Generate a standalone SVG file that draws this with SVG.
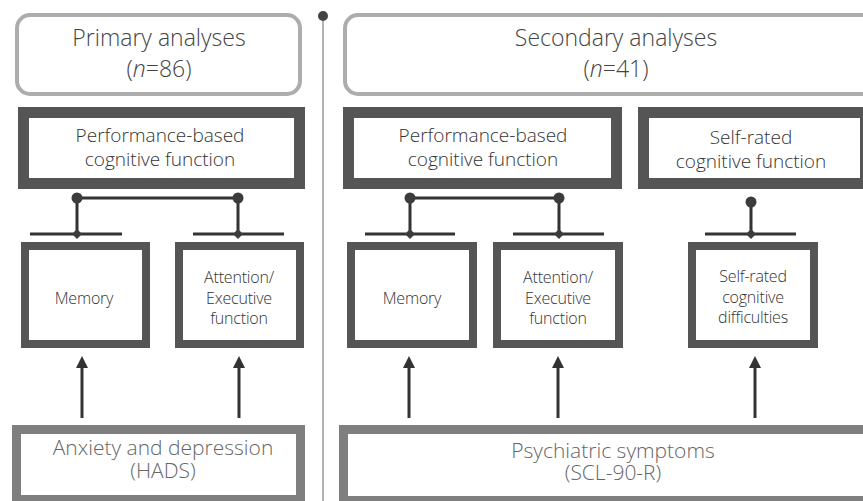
<svg xmlns="http://www.w3.org/2000/svg" width="863" height="501" viewBox="0 0 863 501">
<style>
  text { font-family: "Open Sans", "Noto Sans", "Liberation Sans", sans-serif; text-anchor: middle; font-weight: 300; }
  .title { font-size: 23px; fill: #444; }
  .cat { font-size: 19px; fill: #333; font-weight: 350; }
  .sub { font-size: 16px; fill: #333; font-weight: 350; letter-spacing: -0.2px; }
  .bot { font-size: 21px; fill: #666; }
  .tbox { fill: #fff; stroke: #adadad; stroke-width: 4; }
  .cbox { fill: #fff; stroke: #555; stroke-width: 11; }
  .mbox { fill: #fff; stroke: #555; stroke-width: 8; }
  .bbox { fill: #fff; stroke: #7f7f7f; stroke-width: 9; }
  .ln { stroke: #333; stroke-width: 3; fill: none; }
  .arr { stroke: #333; stroke-width: 3; fill: none; marker-end: url(#ah); }
  .dot { fill: #3c3c3c; }
</style>
<defs>
  <marker id="ah" viewBox="0 0 12 12" refX="1" refY="6" markerWidth="12" markerHeight="12" markerUnits="userSpaceOnUse" orient="auto">
    <path d="M0,0 L12,6 L0,12 z" fill="#333"/>
  </marker>
  <circle id="dot" r="5.5"/>
  <path id="dia" d="M0,-5 L5,0 L0,5 L-5,0 z"/>
</defs>
<rect width="863" height="501" fill="#fff"/>

<g id="divider">
  <line x1="323" y1="16" x2="323" y2="501" stroke="#9a9a9a" stroke-width="1.5"/>
  <circle cx="323" cy="16" r="5" fill="#444"/>
</g>

<g id="primary">
  <rect class="tbox" x="17" y="15" width="283" height="79" rx="13"/>
  <text class="title" x="159" y="46">Primary analyses</text>
  <text class="title" x="159" y="77">(<tspan font-style="italic">n</tspan>=86)</text>
</g>
<g id="secondary">
  <rect class="tbox" x="345" y="15" width="540" height="79" rx="13"/>
  <text class="title" x="616" y="46">Secondary analyses</text>
  <text class="title" x="616" y="77">(<tspan font-style="italic">n</tspan>=41)</text>
</g>

<g id="perf-left">
  <rect class="cbox" x="23.5" y="112.5" width="276" height="71"/>
  <text class="cat" x="160" y="142">Performance-based</text>
  <text class="cat" x="160" y="166">cognitive function</text>
</g>
<g id="perf-right">
  <rect class="cbox" x="348.5" y="112.5" width="268" height="71"/>
  <text class="cat" x="483" y="142">Performance-based</text>
  <text class="cat" x="483" y="166">cognitive function</text>
</g>
<g id="selfrated-func">
  <rect class="cbox" x="643.5" y="112.5" width="222" height="71"/>
  <text class="cat" x="751" y="144">Self-rated</text>
  <text class="cat" x="751" y="168">cognitive function</text>
</g>

<g id="memory-left">
  <rect class="mbox" x="25" y="246" width="121" height="98"/>
  <text class="sub" x="84" y="304">Memory</text>
</g>
<g id="attention-left">
  <rect class="mbox" x="179" y="246" width="121" height="98"/>
  <text class="sub" x="239" y="283">Attention/</text>
  <text class="sub" x="239" y="304">Executive</text>
  <text class="sub" x="239" y="324">function</text>
</g>
<g id="memory-right">
  <rect class="mbox" x="351" y="246" width="122" height="98"/>
  <text class="sub" x="412" y="304">Memory</text>
</g>
<g id="attention-right">
  <rect class="mbox" x="497" y="246" width="122" height="98"/>
  <text class="sub" x="558" y="283">Attention/</text>
  <text class="sub" x="558" y="304">Executive</text>
  <text class="sub" x="558" y="324">function</text>
</g>
<g id="selfrated-diff">
  <rect class="mbox" x="692" y="246" width="122" height="98"/>
  <text class="sub" x="753" y="282">Self-rated</text>
  <text class="sub" x="753" y="303">cognitive</text>
  <text class="sub" x="753" y="323">difficulties</text>
</g>

<g id="anxiety">
  <rect class="bbox" x="16.5" y="429.5" width="284" height="70"/>
  <text class="bot" x="163" y="455">Anxiety and depression</text>
  <text class="bot" x="163" y="478">(HADS)</text>
</g>
<g id="psychiatric">
  <rect class="bbox" x="343.5" y="429.5" width="540" height="71"/>
  <text class="bot" x="613" y="458">Psychiatric symptoms</text>
  <text class="bot" x="613" y="480">(SCL-90-R)</text>
</g>

<g id="connectors">
  <path class="ln" d="M77,198 H238 M77,198 V234 M238,198 V234 M30,234 H122 M193,234 H284"/>
  <path class="ln" d="M410,198 H559 M410,198 V234 M559,198 V234 M365,234 H455 M513,234 H604"/>
  <path class="ln" d="M751,202 V234 M705,234 H796"/>
  <g class="dot">
    <use href="#dot" x="77" y="198"/>
    <use href="#dot" x="238" y="198"/>
    <use href="#dot" x="410" y="198"/>
    <use href="#dot" x="559" y="198"/>
    <use href="#dot" x="751" y="202"/>
    <use href="#dia" x="77" y="234"/>
    <use href="#dia" x="238" y="234"/>
    <use href="#dia" x="410" y="234"/>
    <use href="#dia" x="559" y="234"/>
    <use href="#dia" x="751" y="234"/>
  </g>
  <line class="arr" x1="82" y1="418" x2="82" y2="367"/>
  <line class="arr" x1="239" y1="418" x2="239" y2="367"/>
  <line class="arr" x1="409" y1="418" x2="409" y2="367"/>
  <line class="arr" x1="558" y1="418" x2="558" y2="367"/>
  <line class="arr" x1="755" y1="418" x2="755" y2="367"/>
</g>
</svg>
